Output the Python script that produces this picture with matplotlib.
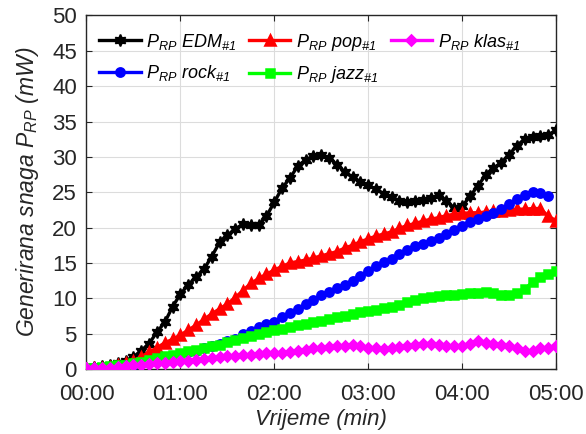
import matplotlib
matplotlib.use('Agg')
import matplotlib.pyplot as plt
import numpy as np

plt.rcParams['font.family'] = ['Liberation Sans', 'DejaVu Sans']
plt.rcParams['mathtext.fontset'] = 'custom'
plt.rcParams['mathtext.rm'] = 'Liberation Sans:italic'
plt.rcParams['mathtext.it'] = 'Liberation Sans:italic'

# data, sampled every 5 s
edm = [0.2, 0.3, 0.4, 0.6, 0.8, 1.2, 1.7, 2.6, 3.6, 5.2, 6.6, 8.8, 10.6, 11.9, 13.0, 14.1,
       15.9, 17.9, 18.9, 19.8, 20.5, 20.4, 20.3, 21.6, 23.6, 25.6, 27.0, 28.7, 29.6, 30.1,
       30.3, 29.9, 28.9, 27.9, 27.1, 26.5, 26.0, 25.4, 24.8, 24.3, 23.7, 23.6, 23.7, 23.9,
       24.2, 24.6, 23.7, 22.8, 23.0, 24.4, 25.9, 27.4, 28.4, 29.2, 30.3, 31.6, 32.5, 32.8,
       32.9, 33.1, 33.8]
pop = [0.0, 0.1, 0.2, 0.3, 0.5, 0.8, 1.2, 1.7, 2.4, 3.0, 3.7, 4.2, 4.8, 5.5, 6.2, 7.0,
       7.8, 8.5, 9.2, 10.1, 11.1, 12.1, 12.8, 13.4, 14.0, 14.5, 15.0, 15.2, 15.4, 15.7,
       16.0, 16.3, 16.6, 17.1, 17.5, 18.0, 18.4, 18.8, 19.1, 19.4, 19.9, 20.3, 20.6, 20.9,
       21.2, 21.4, 21.7, 21.9, 22.0, 22.1, 22.1, 22.2, 22.3, 22.4, 22.5, 22.6, 22.6, 22.7,
       22.7, 21.6, 21.0]
klas = [0.1, 0.1, 0.2, 0.2, 0.3, 0.4, 0.5, 0.6, 0.7, 0.8, 0.9, 1.0, 1.1, 1.2, 1.3, 1.4,
        1.5, 1.7, 1.8, 1.9, 2.0, 2.0, 2.1, 2.2, 2.3, 2.2, 2.4, 2.6, 2.7, 2.9,
        3.0, 3.1, 3.2, 3.3, 3.4, 3.2, 3.0, 2.9, 2.8, 2.9, 3.1, 3.3, 3.4, 3.6,
        3.6, 3.4, 3.3, 3.2, 3.2, 3.6, 3.9, 3.7, 3.6, 3.4, 3.2, 2.9, 2.5, 2.6,
        2.9, 3.0, 3.2]
rock = [0.0, 0.1, 0.1, 0.2, 0.3, 0.5, 0.6, 0.9, 1.1, 1.4, 1.7, 1.9, 2.1, 2.4, 2.6, 2.9,
        3.2, 3.5, 3.9, 4.3, 4.9, 5.4, 5.9, 6.3, 6.7, 7.3, 7.9, 8.5, 9.2, 9.8,
        10.4, 10.9, 11.4, 11.9, 12.5, 13.1, 13.9, 14.6, 15.1, 15.6, 16.3, 16.9, 17.4, 17.7,
        18.1, 18.5, 19.1, 19.6, 20.2, 20.8, 21.2, 21.6, 22.1, 22.7, 23.3, 24.0, 24.6, 25.1,
        24.9, 24.4]
jazz = [0.1, 0.2, 0.3, 0.4, 0.5, 0.6, 0.8, 1.0, 1.3, 1.5, 1.8, 2.0, 2.2, 2.5, 2.7, 2.9,
        3.2, 3.4, 3.8, 4.1, 4.4, 4.7, 5.0, 5.3, 5.5, 5.7, 6.0, 6.2, 6.4, 6.6,
        6.8, 7.0, 7.3, 7.5, 7.8, 8.0, 8.2, 8.4, 8.6, 8.8, 9.1, 9.5, 9.8, 10.0,
        10.2, 10.3, 10.4, 10.5, 10.6, 10.7, 10.8, 10.9, 10.7, 10.4, 10.5, 10.8, 11.3, 12.3,
        13.0, 13.4, 13.8]

xticklabels = ['00:00', '01:00', '02:00', '03:00', '04:00', '05:00']

def tmin(v):
    return np.arange(len(v)) * 5 / 60.0

fig = plt.figure(figsize=(5.86, 4.34), dpi=100)
ax = fig.add_axes([0.1476, 0.1498, 0.8012, 0.8145])

lw = 2.4
mew = 1.8
h_edm, = ax.plot(tmin(edm), edm, '-', color='k', lw=lw, marker=(6, 1, 0), ms=8.5, mew=1.2,
                 zorder=3, label=r'$P_{RP}$ EDM$_{\#1}$')
h_pop, = ax.plot(tmin(pop), pop, '-', color='r', lw=lw, marker='^', ms=7, mew=mew,
                 zorder=3, label=r'$P_{RP}$ pop$_{\#1}$')
h_rock, = ax.plot(tmin(rock), rock, '-', color='b', lw=lw, marker='o', ms=6, mew=mew,
                  zorder=3, label=r'$P_{RP}$ rock$_{\#1}$')
h_jazz, = ax.plot(tmin(jazz), jazz, '-', color='#00ff00', lw=lw, marker='s', ms=5.5, mew=mew,
                  zorder=3, label=r'$P_{RP}$ jazz$_{\#1}$')
h_klas, = ax.plot(tmin(klas), klas, '-', color='#ff00ff', lw=lw, marker='D', ms=5.5, mew=mew,
                  zorder=4, label=r'$P_{RP}$ klas$_{\#1}$')

ax.set_xlim(0, 5)
ax.set_ylim(0, 50)
ax.set_xticks(np.arange(6))
ax.set_xticklabels(xticklabels)
ax.set_yticks(np.arange(0, 51, 5))
ax.tick_params(direction='in', labelsize=16, top=True, right=True, length=4, width=0.8,
               colors='#262626', labelcolor='#262626')
ax.tick_params(axis='x', pad=11)
ax.tick_params(axis='y', pad=7)
ax.grid(True, color='#dcdcdc', lw=0.8)
ax.set_axisbelow(True)
for s in ax.spines.values():
    s.set_color('#262626')
    s.set_linewidth(1.0)

ax.set_xlabel('Vrijeme (min)', fontsize=16, style='italic', color='#262626', labelpad=3)
ax.set_ylabel(r'Generirana snaga $P_{RP}$ (mW)', fontsize=16.5, style='italic', color='#262626',
              labelpad=8)

ax.legend(handles=[h_edm, h_rock, h_pop, h_jazz, h_klas], ncol=3, loc='upper left',
          bbox_to_anchor=(0.0, 0.99), frameon=False, prop={'size': 13, 'style': 'italic'},
          handlelength=2.3, handletextpad=0.3, columnspacing=0.7, labelspacing=0.65,
          borderaxespad=0.3)

fig.savefig('out.png', dpi=100)
